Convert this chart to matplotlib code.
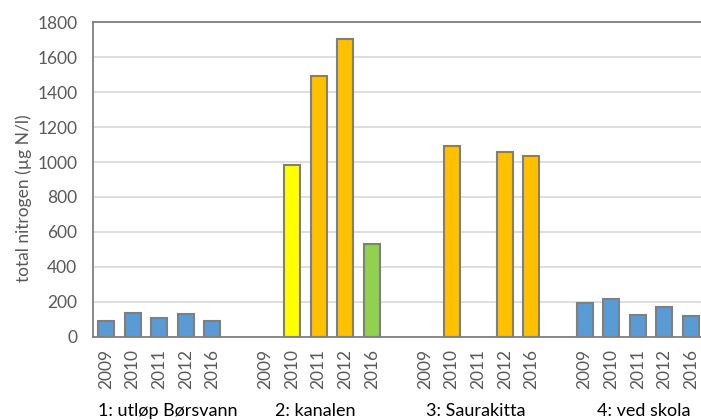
import matplotlib.pyplot as plt

# Data
years = ['2009', '2010', '2011', '2012', '2016']
sites = ['1: utløp Børsvann', '2: kanalen', '3: Saurakitta', '4: ved skola']
values = [
    [88, 138, 105, 132, 88],         # 1: utløp Børsvann
    [None, 982, 1490, 1705, 530],    # 2: kanalen
    [None, 1093, None, 1060, 1033],  # 3: Saurakitta
    [192, 214, 122, 170, 120],       # 4: ved skola
]
colors = [
    ['#5B9BD5'] * 5,
    ['#5B9BD5', '#FFFF00', '#FFC000', '#FFC000', '#92D050'],
    ['#FFC000'] * 5,
    ['#5B9BD5'] * 5,
]
label_x = [2.31, 7.88, 13.90, 20.23]

plt.rcParams['font.family'] = ['Lato', 'DejaVu Sans']
txt = '#595959'

fig = plt.figure(figsize=(7.01, 4.2), dpi=100)
ax = fig.add_axes([0.1322, 0.1983, 0.8725, 0.7486])

ticks, ticklabels = [], []
for g, (vals, cols) in enumerate(zip(values, colors)):
    for i, (v, c) in enumerate(zip(vals, cols)):
        pos = g * 6 + i
        ticks.append(pos)
        ticklabels.append(years[i])
        if v is not None:
            ax.bar(pos, v, width=0.6, color=c, edgecolor='#7F7F7F',
                   linewidth=1.5, zorder=3)

ax.set_xlim(-0.5, 22.5)
ax.set_ylim(0, 1800)
ax.set_yticks(range(0, 1801, 200))
ax.set_xticks(ticks)
ax.set_xticklabels(ticklabels, rotation=90)
ax.tick_params(axis='x', length=0, pad=9, labelsize=12.5, labelcolor=txt)
ax.tick_params(axis='y', length=0, pad=11, labelsize=12.5, labelcolor=txt)
ax.grid(axis='y', color='#D9D9D9', linewidth=1.2, zorder=0)

for side in ['top', 'left', 'bottom']:
    ax.spines[side].set_color('#808080')
    ax.spines[side].set_linewidth(1.3)
ax.spines['right'].set_visible(False)

ax.set_ylabel('total nitrogen (µg N/l)', fontsize=12.5, color=txt)
ax.yaxis.set_label_coords(-0.100, 0.44)

for x, name in zip(label_x, sites):
    ax.text(x, -0.252, name, transform=ax.get_xaxis_transform(),
            ha='center', va='baseline', fontsize=13, color='#000000')

fig.savefig('out.png', dpi=100)
